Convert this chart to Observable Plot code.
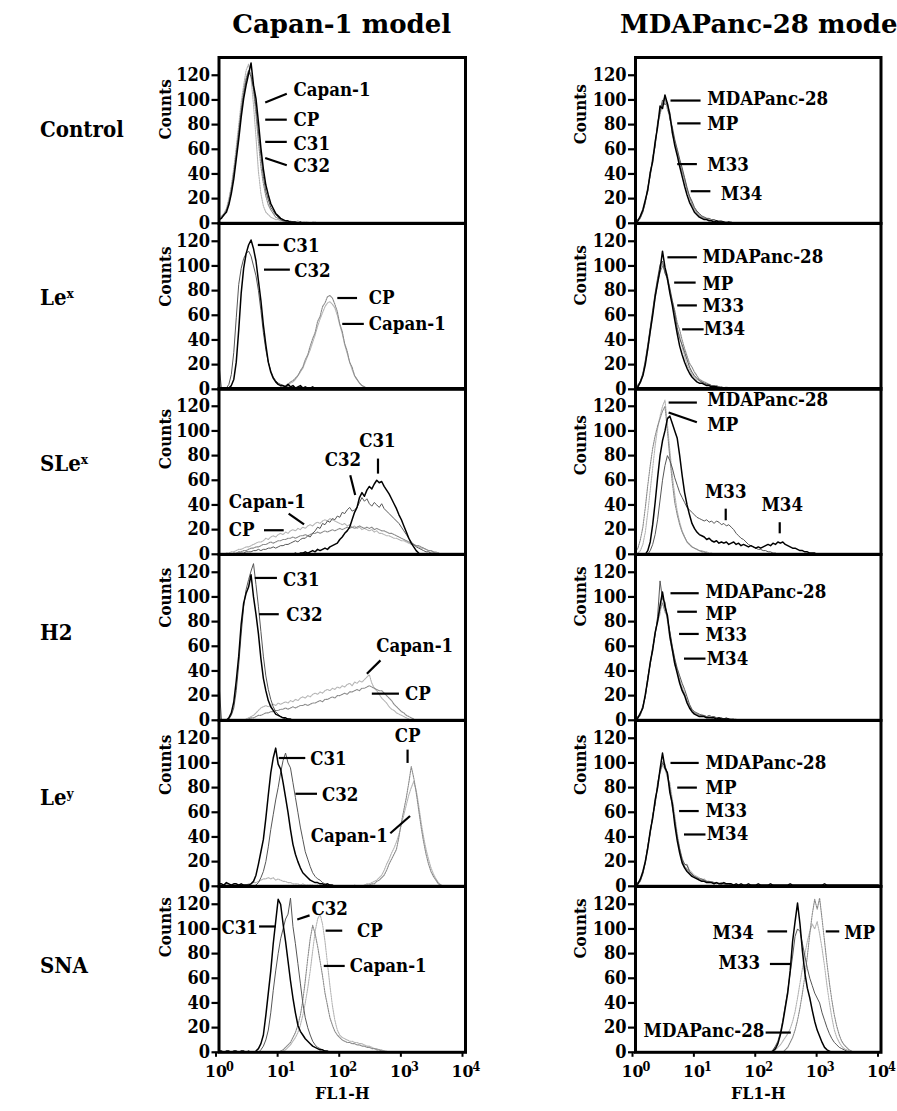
<!DOCTYPE html>
<html>
<head>
<meta charset="utf-8">
<script src="https://cdn.jsdelivr.net/npm/d3@7"></script>
<script src="https://cdn.jsdelivr.net/npm/@observablehq/plot@0.6"></script>
<style>
  html, body { margin: 0; padding: 0; background: #fff; }
  #fig { position: relative; width: 897px; height: 1111px; overflow: hidden;
         font-family: "DejaVu Serif", serif; font-weight: bold; color: #000; }
  .title { position: absolute; top: 9px; font-size: 26px; line-height: 30px;
           white-space: nowrap; transform: translateX(-50%); }
  .row { position: absolute; left: 40px; font-size: 22px; line-height: 26px;
         font-family: "DejaVu Serif Condensed", "DejaVu Serif", serif; font-stretch: condensed;
         white-space: nowrap; transform: translateY(-50%); }
  .row sup { font-size: 0.62em; vertical-align: 0.55em; line-height: 0; }
  .panel { position: absolute; }
  .panel svg { max-width: none; }
</style>
</head>
<body>
<div id="fig"></div>
<script>
// Flow cytometry histograms: counts per FL1-H channel, channels spaced 0.04 decade apart.
// Each series: first channel position (log10 FL1-H) and the counts from there on.
const STEP = 0.04;

const columnTitles = ["Capan-1 model", "MDAPanc-28 model"];
const rowLabels = [["Control", ""], ["Le", "x"], ["SLe", "x"], ["H2", ""], ["Le", "y"], ["SNA", ""]];
const yTicks = [0, 20, 40, 60, 80, 100, 120];
const xTicks = [1, 10, 100, 1000, 10000];
const xLabel = "FL1-H";

// ---------- Capan-1 model ----------
const capControl = {
  "Capan-1": {from: 0.00, counts: [4,6,8,12,20,30,45,62,80,98,112,124,129,118,96,70,42,24,14,9,7,5,4,3,3,2,2,2,1,2,1,1,2,1,1,1,1,0,1,1,0]},
  "CP":      {from: 0.00, counts: [2,5,7,11,18,29,42,58,76,93,108,118,124,121,108,88,66,46,32,22,15,11,8,5,4,3,2,2,1,1,0]},
  "C32":     {from: 0.00, counts: [3,5,6,10,16,26,39,55,72,90,104,116,123,119,110,94,74,55,38,26,19,13,10,7,5,3,2,2,1,1,0]},
  "C31":     {from: 0.00, counts: [3,4,7,9,15,24,36,52,68,86,101,112,121,130,112,101,82,61,44,31,23,16,12,8,6,4,3,2,2,1,1,1,0,1,0,0]}
};
const capLex = {
  "Capan-1": {from: 0.96, counts: [1,1,2,3,3,5,6,8,11,14,17,22,27,32,38,44,51,57,62,67,70,71,69,66,60,52,45,36,29,22,16,11,8,5,3,2,1,0]},
  "CP":      {from: 0.96, counts: [1,2,2,3,4,6,7,9,11,15,18,24,28,35,41,46,55,59,67,70,75,76,74,69,63,53,47,37,31,22,18,11,8,5,3,2,1,0]},
  "C32":     {from: 0.00, counts: [20,0,0,1,4,12,30,58,85,98,106,110,112,108,100,92,80,64,46,32,22,15,10,7,5,4,3,2,2,1,1,0]},
  "C31":     {from: 0.16, counts: [1,3,8,22,48,78,98,110,117,121,114,104,88,72,52,36,22,14,9,6,4,3,3,2,4,2,3,1,2,3,1,2,1,1,2,0,1,0]}
};
const capSLex = {
  "Capan-1": {from: 0.08, counts: [0,1,1,2,2,3,4,4,5,6,6,7,8,9,10,10,11,13,12,14,15,14,16,17,16,18,17,19,20,19,21,20,22,21,23,24,23,25,26,25,27,28,27,29,28,27,26,25,24,25,23,24,22,23,21,22,20,21,20,19,20,18,19,17,17,16,15,15,14,13,13,12,11,11,10,9,8,8,7,6,5,5,4,3,3,2,2,1,0]},
  "CP":      {from: 0.20, counts: [0,1,1,2,2,3,3,4,5,5,6,6,7,8,8,9,10,9,10,11,11,12,12,13,13,14,13,14,15,15,16,15,16,17,17,18,17,18,19,18,19,20,19,20,21,20,21,22,21,22,21,22,23,22,21,22,21,22,20,21,20,19,19,18,17,17,16,15,14,13,12,11,10,9,8,7,7,6,5,4,3,3,2,1,1,0]},
  "C32":     {from: 0.28, counts: [0,1,1,1,2,2,2,3,3,4,3,4,4,5,5,6,5,6,7,7,8,8,9,10,11,10,12,13,13,15,14,17,19,22,21,25,24,27,26,29,28,31,30,34,33,36,38,35,36,38,42,46,43,45,41,39,42,40,38,41,37,35,33,31,29,27,25,22,19,16,13,10,8,6,5,4,3,2,2,1,1,0]},
  "C31":     {from: 1.20, counts: [0,1,0,1,1,2,1,2,3,2,4,3,4,5,4,6,7,8,9,12,14,17,19,22,28,34,38,46,50,47,52,55,53,57,60,58,59,55,52,49,45,41,37,32,28,23,18,13,9,6,3,1,0]}
};
const capH2 = {
  "Capan-1": {from: 0.40, counts: [0,1,2,3,4,6,8,10,11,12,11,12,13,12,14,13,14,15,14,16,15,17,16,18,19,18,20,19,21,22,21,23,22,24,25,24,26,25,27,26,28,27,29,30,28,31,30,32,31,33,35,37,30,26,24,21,18,16,14,11,9,8,6,5,4,3,2,1,0]},
  "CP":      {from: 0.44, counts: [0,1,2,2,3,4,4,5,6,6,7,7,8,8,9,9,10,9,10,11,10,11,12,12,13,12,13,14,14,15,16,15,17,17,18,19,18,20,20,21,22,21,23,23,24,25,24,26,26,27,28,27,26,25,24,24,22,20,18,16,13,11,9,7,6,4,3,2,1,0]},
  "C32":     {from: 0.00, counts: [30,0,0,0,1,4,10,24,45,70,92,106,114,121,127,110,92,72,52,36,25,17,11,7,5,3,2,1,1,0]},
  "C31":     {from: 0.12, counts: [0,2,6,15,32,52,78,95,103,108,118,100,86,70,50,34,24,16,11,8,5,4,3,2,2,1,1,0]}
};
const capLey = {
  "Capan-1": {from: 0.00, counts: [2,1,1,2,1,1,1,2,1,1,1,1,2,2,3,3,4,5,6,6,7,6,7,5,6,5,4,4,3,3,2,2,2,1,2,1,1,1,1,0,1,0,1,0,0,1,0,0,0,0,0,0,0,0,0,1,0,0,0,1,2,2,3,4,5,7,9,13,18,22,27,31,36,42,50,58,66,74,80,85,78,66,52,40,30,22,15,10,6,3,1,0]},
  "CP":      {from: 2.40, counts: [1,1,2,2,4,5,7,9,13,18,22,26,30,40,52,62,72,84,97,88,76,62,48,36,26,18,12,8,5,2,1,0]},
  "C32":     {from: 0.56, counts: [0,1,3,7,12,20,32,46,58,70,80,92,102,108,100,96,84,72,60,48,38,28,22,16,11,8,6,5,3,2,2,1,0]},
  "C31":     {from: 0.00, counts: [2,2,1,3,2,1,2,2,1,2,1,1,1,2,4,9,18,28,38,55,74,92,104,112,99,95,84,72,60,46,34,26,20,15,11,9,7,5,4,3,3,2,2,1,2,1,1,0]}
};
const capSNA = {
  "Capan-1": {from: 1.00, counts: [0,1,2,4,6,9,12,16,22,30,40,52,66,82,98,108,112,104,90,72,54,38,26,18,14,12,11,10,9,9,8,8,7,7,6,5,5,4,3,3,2,2,1,1,0]},
  "CP":      {from: 0.96, counts: [0,1,2,4,6,8,12,16,22,30,42,58,76,92,103,96,86,74,62,48,38,28,22,17,14,12,10,9,8,8,7,7,6,6,5,5,4,4,3,3,2,2,1,1,0]},
  "C32":     {from: 0.64, counts: [0,2,5,10,18,32,50,66,80,92,100,108,112,125,102,88,72,56,40,28,20,14,9,6,4,3,2,1,0]},
  "C31":     {from: 0.00, counts: [1,1,0,1,1,0,1,1,0,1,1,0,1,0,0,1,3,7,14,30,48,66,88,106,124,120,104,90,74,58,44,32,22,17,14,11,9,7,5,4,3,2,2,1,1,0]}
};

// ---------- MDAPanc-28 model ----------
const mdaControl = {
  "MDAPanc-28": {from: 0.00, counts: [1,3,5,10,16,30,39,55,63,79,93,98,100,95,90,77,64,60,50,44,34,28,20,17,11,8,6,5,5,4,3,2,3,2,1,2,1,1,1,1,0]},
  "MP":         {from: 0.00, counts: [1,2,4,10,18,26,42,51,65,80,88,97,103,92,87,72,66,57,49,42,36,27,22,15,12,9,7,5,4,3,3,2,2,2,1,1,1,0]},
  "M33":        {from: 0.00, counts: [2,3,5,9,17,29,38,53,62,82,90,100,96,98,84,78,68,60,52,45,37,29,22,18,13,10,8,6,5,4,4,3,3,2,2,2,1,1,1,1,0]},
  "M34":        {from: 0.00, counts: [1,2,6,11,19,27,41,50,66,78,95,93,104,97,88,74,63,55,46,38,30,23,17,13,9,7,5,4,3,3,2,2,1,2,1,1,1,0,1,0]}
};
const mdaLex = {
  "MDAPanc-28": {from: 0.00, counts: [2,4,6,12,24,35,49,63,77,89,99,102,98,93,81,69,59,47,44,34,27,20,16,12,10,8,7,6,4,5,3,3,2,3,2,2,1,2,1,1,0]},
  "MP":         {from: 0.00, counts: [1,3,5,12,21,32,46,61,74,86,95,100,96,88,79,71,64,54,48,40,33,27,21,18,14,11,8,7,6,5,4,3,3,3,2,2,1,1,1,0]},
  "M33":        {from: 0.00, counts: [2,3,7,13,23,36,50,64,78,90,101,104,94,90,82,72,62,50,41,36,30,24,18,14,11,9,7,6,5,4,4,3,3,2,2,1,1,1,0]},
  "M34":        {from: 0.00, counts: [1,2,6,11,20,33,47,60,75,86,97,112,99,90,78,68,56,45,35,28,22,17,13,10,8,6,5,5,4,3,3,2,2,2,1,1,1,0]}
};
const mdaSLex = {
  "MDAPanc-28": {from: 0.04, counts: [1,3,8,18,34,52,70,88,102,112,120,125,106,84,64,48,35,26,19,14,10,8,6,5,4,3,3,2,2,1,1,0]},
  "MP":         {from: 0.00, counts: [2,5,12,22,38,56,72,86,96,104,110,116,120,100,78,58,42,32,24,18,14,10,8,6,5,4,3,2,2,1,0]},
  "M33":        {from: 0.20, counts: [0,3,8,16,28,44,60,72,80,76,70,62,56,50,46,42,38,36,34,32,30,29,28,27,28,26,27,25,27,26,24,25,23,24,22,20,17,15,13,12,10,8,7,6,5,4,4,3,3,2,2,1,1,0]},
  "M34":        {from: 0.16, counts: [0,3,10,24,42,62,80,92,100,110,112,106,100,94,80,64,50,40,32,25,21,18,16,15,14,12,13,11,10,11,9,10,9,10,8,9,10,8,9,7,8,7,6,7,6,5,6,5,6,7,8,7,9,8,10,9,10,8,7,6,5,5,4,3,3,2,2,1,1,1,0]}
};
const mdaH2 = {
  "MDAPanc-28": {from: 0.00, counts: [1,2,5,10,19,34,47,60,72,80,86,100,94,80,66,56,44,42,33,27,22,15,12,8,6,5,4,5,3,3,3,2,3,2,2,2,1,2,1,1,1,1,0]},
  "MP":         {from: 0.00, counts: [1,2,4,11,20,32,46,57,70,82,90,95,88,84,71,59,49,39,31,25,21,16,11,8,6,5,4,4,3,3,3,2,2,2,2,1,1,1,0]},
  "M33":        {from: 0.00, counts: [2,3,5,12,19,35,45,59,69,84,113,98,96,82,72,60,50,42,36,30,25,19,13,9,7,6,5,4,4,3,4,3,3,2,2,2,1,2,1,1,1,0]},
  "M34":        {from: 0.00, counts: [1,2,6,10,21,33,47,57,71,80,93,104,92,85,68,57,46,38,30,24,20,14,10,7,5,4,3,3,3,2,2,2,2,1,2,1,1,1,1,0]}
};
const mdaLey = {
  "MDAPanc-28": {from: 0.00, counts: [1,3,6,11,19,30,42,57,67,80,92,98,95,88,84,71,58,43,31,23,17,18,13,11,9,8,7,5,6,4,4,3,3,2,3,2,2,1,1,1,0]},
  "MP":         {from: 0.00, counts: [1,2,4,11,21,32,44,56,69,81,94,101,99,89,80,68,53,40,30,21,16,14,11,9,8,7,5,5,4,4,3,4,3,3,2,2,2,1,1,1,0]},
  "M33":        {from: 0.00, counts: [2,3,5,10,19,33,43,58,66,84,93,100,97,92,79,64,54,40,30,22,18,17,12,10,8,7,6,6,5,4,4,3,3,3,2,3,2,2,2,1,1,1,0]},
  "M34":        {from: 0.00, counts: [1,2,6,12,20,31,45,55,70,80,95,108,96,92,76,67,50,37,27,19,15,12,10,8,7,6,5,4,4,3,3,3,2,3,2,2,3,2,2,2,1,2,1,2,1,1,2,1,1,1,2,1,1,1,1,2,1,1,1,1,1,1,1,2,1,1,1,1,1,1,1,1,1,1,1,1,1,2,1,1,1,1,1,1,1,1,1,1,1,1,1,1,1,1,1,1,1,1,1,1,0]}
};
const mdaSNA = {
  "MDAPanc-28": {from: 2.24, counts: [0,2,4,6,9,12,15,19,25,33,44,56,68,80,90,98,104,100,106,96,84,70,54,40,28,18,12,8,5,3,2,1,0]},
  "MP":         {from: 2.40, counts: [0,2,4,8,12,18,26,36,48,62,78,96,112,124,116,125,108,90,72,56,42,30,21,14,9,6,4,2,1,0]},
  "M33":        {from: 2.20, counts: [0,2,5,9,16,26,38,50,64,78,94,100,98,88,78,68,60,54,48,44,40,32,26,20,15,11,8,6,4,3,2,1,0]},
  "M34":        {from: 2.20, counts: [0,1,3,7,14,24,36,48,66,90,106,121,104,82,64,52,44,34,25,18,13,8,4,2,1,0]}
};

// Annotations: text position (log10 FL1-H, counts), anchor, and leader line [x1, y1, x2, y2].
const capControlNotes = [
  {text: "Capan-1", x: 1.21, y: 108, anchor: "start", line: [0.75, 98, 1.10, 105]},
  {text: "CP", x: 1.21, y: 84, anchor: "start", line: [0.75, 84, 1.10, 84]},
  {text: "C31", x: 1.21, y: 64, anchor: "start", line: [0.75, 66, 1.10, 66]},
  {text: "C32", x: 1.21, y: 46, anchor: "start", line: [0.75, 53, 1.10, 47]}
];
const capLexNotes = [
  {text: "C31", x: 1.04, y: 116, anchor: "start", line: [0.63, 117, 0.97, 117]},
  {text: "C32", x: 1.22, y: 96, anchor: "start", line: [0.73, 97, 1.15, 97]},
  {text: "CP", x: 2.43, y: 74, anchor: "start", line: [1.92, 74, 2.24, 74]},
  {text: "Capan-1", x: 2.43, y: 53, anchor: "start", line: [2.0, 53, 2.35, 53]}
];
const capSLexNotes = [
  {text: "C31", x: 2.57, y: 92, anchor: "middle", line: [2.58, 77.6, 2.58, 65.4]},
  {text: "C32", x: 2.01, y: 76, anchor: "middle", line: [2.13, 64, 2.21, 48]},
  {text: "Capan-1", x: 0.16, y: 42, anchor: "start", line: [1.13, 33, 1.38, 24.3]},
  {text: "CP", x: 0.16, y: 19.5, anchor: "start", line: [0.73, 19.5, 1.05, 19.5]}
];
const capH2Notes = [
  {text: "C31", x: 1.04, y: 113.5, anchor: "start", line: [0.58, 115.4, 0.94, 115.4]},
  {text: "C32", x: 1.09, y: 85, anchor: "start", line: [0.65, 86, 0.97, 86]},
  {text: "Capan-1", x: 2.55, y: 60, anchor: "start", line: [2.62, 48.6, 2.40, 37.8]},
  {text: "CP", x: 3.02, y: 21.6, anchor: "start", line: [2.48, 21.6, 2.92, 21.6]}
];
const capLeyNotes = [
  {text: "CP", x: 3.06, y: 121.6, anchor: "middle", line: [3.06, 110.8, 3.06, 100]},
  {text: "C31", x: 1.48, y: 103, anchor: "start", line: [0.97, 104, 1.40, 104]},
  {text: "C32", x: 1.67, y: 74, anchor: "start", line: [1.24, 75, 1.59, 75]},
  {text: "Capan-1", x: 1.49, y: 40.5, anchor: "start", line: [2.78, 43, 3.10, 57]}
];
const capSNANotes = [
  {text: "C31", x: 0.63, y: 101, anchor: "end", line: [0.65, 102, 0.92, 102]},
  {text: "C32", x: 1.50, y: 116, anchor: "start", line: [1.27, 107.6, 1.47, 111]},
  {text: "CP", x: 2.24, y: 98.6, anchor: "start", line: [1.73, 98.6, 2.0, 98.6]},
  {text: "Capan-1", x: 2.12, y: 70, anchor: "start", line: [1.70, 70, 2.04, 70]}
];
const mdaControlNotes = [
  {text: "MDAPanc-28", x: 1.17, y: 101, anchor: "start", line: [0.57, 99.5, 1.06, 99.5]},
  {text: "MP", x: 1.17, y: 80.5, anchor: "start", line: [0.68, 81, 1.06, 81]},
  {text: "M33", x: 1.17, y: 47, anchor: "start", line: [0.68, 48, 1.0, 48]},
  {text: "M34", x: 1.39, y: 24, anchor: "start", line: [0.90, 26, 1.22, 26]}
];
const mdaLexNotes = [
  {text: "MDAPanc-28", x: 1.09, y: 107, anchor: "start", line: [0.52, 107, 1.0, 107]},
  {text: "MP", x: 1.09, y: 85, anchor: "start", line: [0.63, 86.5, 0.98, 86.5]},
  {text: "M33", x: 1.09, y: 67.5, anchor: "start", line: [0.68, 68, 1.0, 68]},
  {text: "M34", x: 1.11, y: 48.6, anchor: "start", line: [0.76, 48.6, 1.11, 48.6]}
];
const mdaSLexNotes = [
  {text: "MDAPanc-28", x: 1.17, y: 125, anchor: "start", line: [0.54, 123, 1.0, 123]},
  {text: "MP", x: 1.17, y: 104.6, anchor: "start", line: [0.54, 115, 1.0, 107]},
  {text: "M33", x: 1.47, y: 50.5, anchor: "middle", line: [1.47, 37, 1.47, 27.6]},
  {text: "M34", x: 2.39, y: 39.7, anchor: "middle", line: [2.35, 26, 2.35, 17]}
];
const mdaH2Notes = [
  {text: "MDAPanc-28", x: 1.14, y: 104, anchor: "start", line: [0.57, 103, 1.03, 103]},
  {text: "MP", x: 1.14, y: 86.5, anchor: "start", line: [0.68, 88, 1.0, 88]},
  {text: "M33", x: 1.14, y: 69, anchor: "start", line: [0.71, 70, 1.03, 70]},
  {text: "M34", x: 1.16, y: 50, anchor: "start", line: [0.79, 50, 1.14, 50]}
];
const mdaLeyNotes = [
  {text: "MDAPanc-28", x: 1.14, y: 100, anchor: "start", line: [0.57, 100, 1.03, 100]},
  {text: "MP", x: 1.14, y: 80, anchor: "start", line: [0.68, 80, 1.0, 80]},
  {text: "M33", x: 1.14, y: 61, anchor: "start", line: [0.71, 61, 1.03, 61]},
  {text: "M34", x: 1.16, y: 42, anchor: "start", line: [0.79, 42, 1.14, 42]}
];
const mdaSNANotes = [
  {text: "M34", x: 1.93, y: 97, anchor: "end", line: [2.15, 98, 2.47, 98]},
  {text: "MP", x: 3.40, y: 97, anchor: "start", line: [3.10, 98, 3.32, 98]},
  {text: "M33", x: 2.03, y: 72, anchor: "end", line: [2.19, 71.6, 2.52, 71.6]},
  {text: "MDAPanc-28", x: 2.10, y: 17, anchor: "end", line: [2.12, 16, 2.53, 16]}
];

// Vertical position (in counts) of the "Counts" axis title in each row.
const countsTitleY = [[68, 67, 69, 75, 74, 77], [64, 68, 64, 76, 74, 76]];

const panels = [
  [[capControl, capControlNotes], [capLex, capLexNotes], [capSLex, capSLexNotes],
   [capH2, capH2Notes], [capLey, capLeyNotes], [capSNA, capSNANotes]],
  [[mdaControl, mdaControlNotes], [mdaLex, mdaLexNotes], [mdaSLex, mdaSLexNotes],
   [mdaH2, mdaH2Notes], [mdaLey, mdaLeyNotes], [mdaSNA, mdaSNANotes]]
];

// Line styles per cell line; drawn back to front in this order.
const drawOrder = [["Capan-1", "CP", "C32", "C31"], ["MDAPanc-28", "MP", "M33", "M34"]];
const black = {stroke: "#000", strokeWidth: 1.5};
const darkGrey = {stroke: "#555", strokeWidth: 1};
const greyDots = {stroke: "#8a8a8a", strokeWidth: 1.1, strokeDasharray: "1.5,1"};
const lightDots = {stroke: "#b4b4b4", strokeWidth: 1.1, strokeDasharray: "1.5,1"};
const seriesStyle = {
  "Capan-1": lightDots, "CP": greyDots, "C32": darkGrey, "C31": black,
  "MDAPanc-28": lightDots, "MP": greyDots, "M33": darkGrey, "M34": black
};

const FONT = "'DejaVu Serif Condensed', 'DejaVu Serif', serif";

// Layout
const PANEL_H = 165.8, FIRST_TOP = 56.7;
const colLayout = [
  {left: 0, marginLeft: 218.5, inner: 246.5, marginRight: 20, countsDx: -53},
  {left: 480, marginLeft: 155, inner: 245.5, marginRight: 17, countsDx: -55}
];

const fig = document.getElementById("fig");

columnTitles.forEach((t, c) => {
  const d = document.createElement("div");
  d.className = "title";
  d.textContent = t;
  const L = colLayout[c];
  d.style.left = (L.left + L.marginLeft + L.inner / 2 + (c === 1 ? 6 : 0)) + "px";
  fig.appendChild(d);
});

const rowCenters = [129, 297, 463, 632, 797, 965];
rowLabels.forEach(([base, s], r) => {
  const d = document.createElement("div");
  d.className = "row";
  d.textContent = base;
  if (s) { const e = document.createElement("sup"); e.textContent = s; d.appendChild(e); }
  d.style.top = rowCenters[r] + "px";
  fig.appendChild(d);
});

function histogramPoints(h) {
  return h.counts.map((c, i) => ({fl: 10 ** (h.from + i * STEP), count: c}));
}

panels.forEach((rows, c) => {
  const L = colLayout[c];
  rows.forEach(([hist, notes], r) => {
    const bottom = r === rows.length - 1;
    const mt = 10, mb = bottom ? 75 : 10;
    const marks = [];
    for (const name of drawOrder[c]) {
      marks.push(Plot.line(histogramPoints(hist[name]), {x: "fl", y: "count", ...seriesStyle[name]}));
    }
    marks.push(Plot.link(notes, {
      x1: d => 10 ** d.line[0], y1: d => d.line[1],
      x2: d => 10 ** d.line[2], y2: d => d.line[3],
      stroke: "#000", strokeWidth: 2.2
    }));
    for (const anchor of ["start", "middle", "end"]) {
      marks.push(Plot.text(notes, {
        filter: d => d.anchor === anchor,
        x: d => 10 ** d.x, y: "y", text: "text", textAnchor: anchor,
        fontSize: 18.5, fontWeight: "bold", fill: "#000"
      }));
    }
    marks.push(Plot.frame({stroke: "#000", strokeWidth: 3}));
    marks.push(Plot.axisY({ticks: yTicks, tickSize: 7, tickPadding: 2, strokeWidth: 2.2,
      fontSize: 18, fontWeight: "bold", label: null}));
    marks.push(Plot.text([{y: countsTitleY[c][r]}], {
      y: "y", frameAnchor: "left", dx: L.countsDx, text: () => "Counts", rotate: -90,
      fontSize: 17, fontWeight: "bold", fill: "#000"
    }));
    if (bottom) {
      // powers of ten: base "10" at the tick, exponent raised to its right
      marks.push(Plot.axisX({ticks: xTicks, tickSize: 5, tickPadding: 7, strokeWidth: 2, dx: -3,
        tickFormat: () => "10", fontSize: 17.5, fontWeight: "bold", label: null}));
      marks.push(Plot.axisX({ticks: xTicks, tickSize: 0, tickPadding: 0, dx: 11, dy: 10,
        tickFormat: d => String(Math.round(Math.log10(d))), fontSize: 12.5, fontWeight: "bold",
        label: null}));
      marks.push(Plot.text([xLabel], {frameAnchor: "bottom", dy: 47, text: d => d,
        fontSize: 17.5, fontWeight: "bold", fill: "#000"}));
    }
    const svg = Plot.plot({
      width: L.marginLeft + L.inner + L.marginRight,
      height: mt + PANEL_H + mb,
      marginLeft: L.marginLeft, marginRight: L.marginRight,
      marginTop: mt, marginBottom: mb,
      x: {type: "log", domain: [1, 10000], axis: null},
      y: {domain: [0, 134.4], axis: null},
      style: {background: "transparent", overflow: "visible", fontFamily: FONT,
              fontStretch: "condensed", color: "#000"},
      marks
    });
    const wrap = document.createElement("div");
    wrap.className = "panel";
    wrap.style.left = L.left + "px";
    wrap.style.top = (FIRST_TOP + PANEL_H * r - mt) + "px";
    wrap.appendChild(svg);
    fig.appendChild(wrap);
  });
});
</script>
</body>
</html>
